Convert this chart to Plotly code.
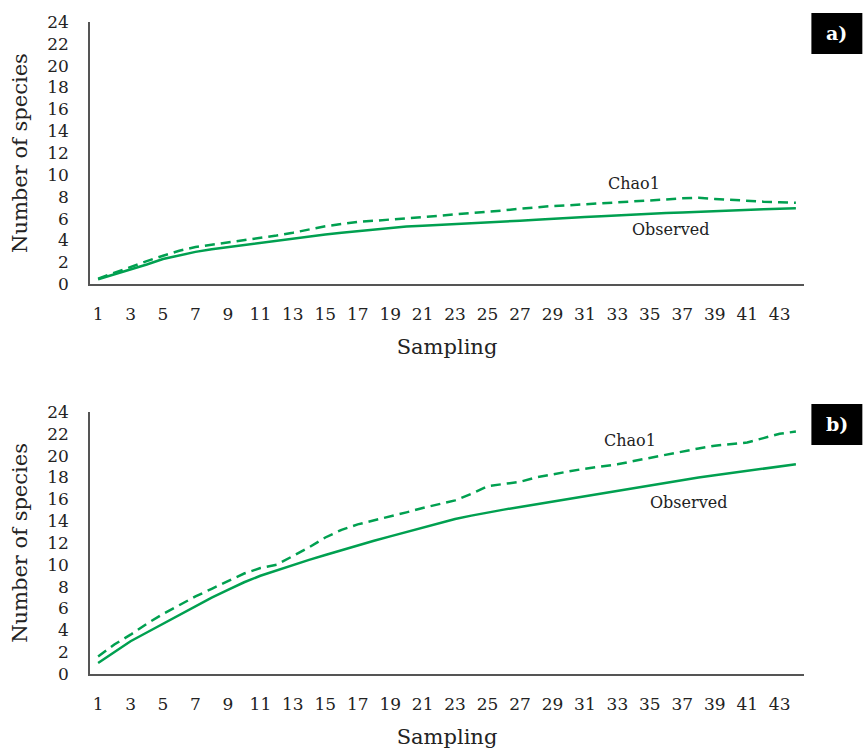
import plotly.graph_objects as go
from plotly.subplots import make_subplots

sampling = list(range(1, 45))

obs_a = [0.45, 0.9, 1.3, 1.8, 2.3, 2.65, 2.95, 3.2, 3.4, 3.6, 3.8, 3.98, 4.15, 4.35, 4.55, 4.7,
         4.85, 5.0, 5.15, 5.27, 5.35, 5.42, 5.5, 5.55, 5.6, 5.7, 5.8, 5.9, 6.0, 6.08, 6.15, 6.22,
         6.3, 6.38, 6.45, 6.5, 6.55, 6.62, 6.7, 6.75, 6.8, 6.85, 6.9, 6.95]
chao_a = [0.5, 1.05, 1.6, 2.1, 2.6, 3.05, 3.4, 3.6, 3.8, 4.0, 4.2, 4.45, 4.7, 5.0, 5.3, 5.5,
          5.7, 5.8, 5.9, 6.0, 6.1, 6.25, 6.4, 6.5, 6.65, 6.75, 6.9, 7.05, 7.15, 7.22, 7.3, 7.38,
          7.45, 7.55, 7.65, 7.75, 7.85, 7.9, 7.8, 7.7, 7.6, 7.55, 7.5, 7.45]

obs_b = [1.0, 2.0, 3.0, 3.8, 4.6, 5.4, 6.2, 7.0, 7.7, 8.4, 9.0, 9.5, 10.0, 10.45, 10.9, 11.35,
         11.8, 12.2, 12.6, 13.0, 13.4, 13.8, 14.2, 14.5, 14.8, 15.05, 15.3, 15.55, 15.8, 16.05, 16.3, 16.55,
         16.8, 17.05, 17.3, 17.55, 17.8, 18.0, 18.2, 18.4, 18.6, 18.8, 19.0, 19.2]
chao_b = [1.6, 2.7, 3.6, 4.6, 5.5, 6.3, 7.1, 7.8, 8.5, 9.2, 9.7, 10.0, 10.8, 11.6, 12.5, 13.2,
          13.7, 14.05, 14.4, 14.8, 15.2, 15.55, 15.9, 16.5, 17.2, 17.4, 17.6, 18.0, 18.3, 18.55, 18.8, 19.0,
          19.2, 19.5, 19.8, 20.1, 20.4, 20.65, 20.9, 21.05, 21.2, 21.6, 22.0, 22.2]

y_ticks = list(range(0, 25, 2))
x_ticks = list(range(1, 44, 2))

GREEN = "#00A050"
FONT = "DejaVu Serif"

fig = make_subplots(rows=2, cols=1, vertical_spacing=0.196)

for row, obs, chao in [(1, obs_a, chao_a), (2, obs_b, chao_b)]:
    fig.add_trace(go.Scatter(x=sampling, y=obs, mode="lines", name="Observed",
                             line=dict(color=GREEN, width=2.5), showlegend=False), row=row, col=1)
    fig.add_trace(go.Scatter(x=sampling, y=chao, mode="lines", name="Chao1",
                             line=dict(color=GREEN, width=2.5, dash="10px,6px"), showlegend=False),
                  row=row, col=1)
    fig.update_xaxes(range=[0.5, 44.5], tickvals=x_ticks, ticktext=[str(v) for v in x_ticks],
                     showline=True, linecolor="#555555", linewidth=1.5, showgrid=False, zeroline=False,
                     ticks="", ticklabelstandoff=14, automargin=False,
                     title=dict(text="Sampling", font=dict(size=21, family=FONT, color="#222"), standoff=16),
                     row=row, col=1)
    fig.update_yaxes(range=[0, 24], tickvals=y_ticks, showline=True, linecolor="#555555", linewidth=1.5,
                     showgrid=False, zeroline=False, ticks="", ticklabelstandoff=16, automargin=False,
                     title=dict(text="Number of species", font=dict(size=21, family=FONT, color="#222"),
                                standoff=14),
                     row=row, col=1)

fig.update_layout(
    width=863, height=750,
    margin=dict(l=90, r=59, t=22, b=76),
    plot_bgcolor="white", paper_bgcolor="white",
    font=dict(family=FONT, size=17, color="#222"),
)

fig.update_layout(yaxis=dict(domain=[0.598, 1.0]), yaxis2=dict(domain=[0.0, 0.402]))

ann = [
    dict(x=34, y=9.2, xref="x", yref="y", text="Chao1"),
    dict(x=36.3, y=5.0, xref="x", yref="y", text="Observed"),
    dict(x=33.8, y=21.4, xref="x2", yref="y2", text="Chao1"),
    dict(x=37.4, y=15.7, xref="x2", yref="y2", text="Observed"),
]
for a in ann:
    fig.add_annotation(**a, showarrow=False, font=dict(size=16, family=FONT, color="#222"))


def px_x(p):
    return (p - 90) / 714.6


def px_y(p):
    return (674 - p) / 652


for lbl, ytop in [("a)", 13), ("b)", 404)]:
    fig.add_shape(type="rect", xref="paper", yref="paper",
                  x0=px_x(812), x1=px_x(863), y0=px_y(ytop + 41), y1=px_y(ytop),
                  fillcolor="black", line=dict(width=0), layer="above")
    fig.add_annotation(x=px_x(837.5), y=px_y(ytop + 20.5), xref="paper", yref="paper",
                       xanchor="center", yanchor="middle", text="<b>" + lbl + "</b>", showarrow=False,
                       font=dict(size=19, family=FONT, color="white"))

fig.write_html("out.html")
